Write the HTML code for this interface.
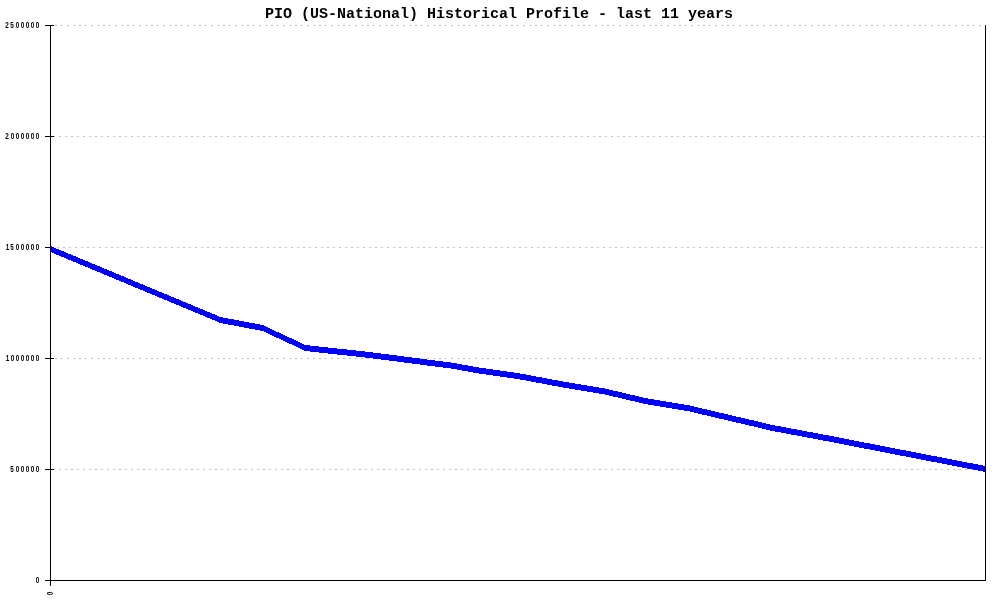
<!DOCTYPE html>
<html lang="en">
<head>
<meta charset="utf-8">
<title>PIO (US-National) Historical Profile - last 11 years</title>
<style>
html,body{margin:0;padding:0;background:#fff;}
body{width:1000px;height:600px;overflow:hidden;}
svg{display:block;}
.title{font-family:"Liberation Mono","DejaVu Sans Mono",monospace;font-size:15px;font-weight:bold;fill:#000;}
.ylab text,.xlab text{font-family:"Liberation Sans","DejaVu Sans",sans-serif;font-size:9px;font-weight:bold;fill:#000;}
</style>
</head>
<body>
<svg width="1000" height="600" viewBox="0 0 1000 600">
<rect width="1000" height="600" fill="#ffffff"/>
<text class="title" x="265" y="18" textLength="468" lengthAdjust="spacing">PIO (US-National) Historical Profile - last 11 years</text>
<g shape-rendering="crispEdges" fill="none" stroke-width="1">
<line x1="55" y1="25.5" x2="985" y2="25.5" stroke="#c0c0c0" stroke-dasharray="2 4"/>
<line x1="53" y1="136.5" x2="985" y2="136.5" stroke="#c0c0c0" stroke-dasharray="2 4"/>
<line x1="57" y1="247.5" x2="985" y2="247.5" stroke="#c0c0c0" stroke-dasharray="2 4"/>
<line x1="55" y1="358.5" x2="985" y2="358.5" stroke="#c0c0c0" stroke-dasharray="2 4"/>
<line x1="53" y1="469.5" x2="985" y2="469.5" stroke="#c0c0c0" stroke-dasharray="2 4"/>
</g>
<path shape-rendering="crispEdges" fill="none" stroke="#000" stroke-width="1" d="M45 25.5H54M45 136.5H54M45 247.5H54M45 358.5H54M45 469.5H54"/>
<path shape-rendering="crispEdges" fill="#0000ff" d="M50 246h2v6h-2zM52 247h2v6h-2zM54 248h2v6h-2zM56 249h3v6h-3zM59 250h2v6h-2zM61 251h3v6h-3zM64 252h2v6h-2zM66 253h2v6h-2zM68 254h3v6h-3zM71 255h2v6h-2zM73 256h3v6h-3zM76 257h2v6h-2zM78 258h2v6h-2zM80 259h3v6h-3zM83 260h2v6h-2zM85 261h3v6h-3zM88 262h2v6h-2zM90 263h2v6h-2zM92 264h3v6h-3zM95 265h2v6h-2zM97 266h3v6h-3zM100 267h2v6h-2zM102 268h2v6h-2zM104 269h3v6h-3zM107 270h2v6h-2zM109 271h3v6h-3zM112 272h2v6h-2zM114 273h2v6h-2zM116 274h3v6h-3zM119 275h2v6h-2zM121 276h3v6h-3zM124 277h2v6h-2zM126 278h2v6h-2zM128 279h3v6h-3zM131 280h2v6h-2zM133 281h2v6h-2zM135 282h3v6h-3zM138 283h2v6h-2zM140 284h3v6h-3zM143 285h2v6h-2zM145 286h2v6h-2zM147 287h3v6h-3zM150 288h2v6h-2zM152 289h3v6h-3zM155 290h2v6h-2zM157 291h2v6h-2zM159 292h3v6h-3zM162 293h2v6h-2zM164 294h3v6h-3zM167 295h2v6h-2zM169 296h2v6h-2zM171 297h3v6h-3zM174 298h2v6h-2zM176 299h3v6h-3zM179 300h2v6h-2zM181 301h2v6h-2zM183 302h3v6h-3zM186 303h2v6h-2zM188 304h3v6h-3zM191 305h2v6h-2zM193 306h2v6h-2zM195 307h3v6h-3zM198 308h2v6h-2zM200 309h3v6h-3zM203 310h2v6h-2zM205 311h2v6h-2zM207 312h3v6h-3zM210 313h2v6h-2zM212 314h3v6h-3zM215 315h2v6h-2zM217 316h2v6h-2zM219 317h4v6h-4zM223 318h5v6h-5zM228 319h6v6h-6zM234 320h5v6h-5zM239 321h5v6h-5zM244 322h5v6h-5zM249 323h6v6h-6zM255 324h5v6h-5zM260 325h4v6h-4zM264 326h2v6h-2zM266 327h2v6h-2zM268 328h2v6h-2zM270 329h2v6h-2zM272 330h2v6h-2zM274 331h2v6h-2zM276 332h3v6h-3zM279 333h2v6h-2zM281 334h2v6h-2zM283 335h2v6h-2zM285 336h2v6h-2zM287 337h2v6h-2zM289 338h3v6h-3zM292 339h2v6h-2zM294 340h2v6h-2zM296 341h2v6h-2zM298 342h2v6h-2zM300 343h2v6h-2zM302 344h2v6h-2zM304 345h6v6h-6zM310 346h9v6h-9zM319 347h9v6h-9zM328 348h9v6h-9zM337 349h10v6h-10zM347 350h9v6h-9zM356 351h9v6h-9zM365 352h8v6h-8zM373 353h8v6h-8zM381 354h8v6h-8zM389 355h8v6h-8zM397 356h7v6h-7zM404 357h8v6h-8zM412 358h8v6h-8zM420 359h7v6h-7zM427 360h8v6h-8zM435 361h8v6h-8zM443 362h8v6h-8zM451 363h6v6h-6zM457 364h5v6h-5zM462 365h6v6h-6zM468 366h5v6h-5zM473 367h6v6h-6zM479 368h7v6h-7zM486 369h7v6h-7zM493 370h7v6h-7zM500 371h7v6h-7zM507 372h7v6h-7zM514 373h6v6h-6zM520 374h6v6h-6zM526 375h5v6h-5zM531 376h5v6h-5zM536 377h6v6h-6zM542 378h5v6h-5zM547 379h5v6h-5zM552 380h6v6h-6zM558 381h5v6h-5zM563 382h6v6h-6zM569 383h6v6h-6zM575 384h6v6h-6zM581 385h6v6h-6zM587 386h6v6h-6zM593 387h6v6h-6zM599 388h6v6h-6zM605 389h4v6h-4zM609 390h4v6h-4zM613 391h5v6h-5zM618 392h4v6h-4zM622 393h4v6h-4zM626 394h4v6h-4zM630 395h5v6h-5zM635 396h4v6h-4zM639 397h4v6h-4zM643 398h5v6h-5zM648 399h6v6h-6zM654 400h6v6h-6zM660 401h6v6h-6zM666 402h6v6h-6zM672 403h6v6h-6zM678 404h6v6h-6zM684 405h6v6h-6zM690 406h4v6h-4zM694 407h4v6h-4zM698 408h4v6h-4zM702 409h5v6h-5zM707 410h4v6h-4zM711 411h4v6h-4zM715 412h4v6h-4zM719 413h5v6h-5zM724 414h4v6h-4zM728 415h4v6h-4zM732 416h4v6h-4zM736 417h5v6h-5zM741 418h4v6h-4zM745 419h4v6h-4zM749 420h5v6h-5zM754 421h4v6h-4zM758 422h4v6h-4zM762 423h4v6h-4zM766 424h4v6h-4zM770 425h5v6h-5zM775 426h6v6h-6zM781 427h5v6h-5zM786 428h5v6h-5zM791 429h6v6h-6zM797 430h5v6h-5zM802 431h5v6h-5zM807 432h6v6h-6zM813 433h5v6h-5zM818 434h5v6h-5zM823 435h6v6h-6zM829 436h5v6h-5zM834 437h5v6h-5zM839 438h5v6h-5zM844 439h5v6h-5zM849 440h5v6h-5zM854 441h5v6h-5zM859 442h5v6h-5zM864 443h6v6h-6zM870 444h5v6h-5zM875 445h5v6h-5zM880 446h5v6h-5zM885 447h5v6h-5zM890 448h5v6h-5zM895 449h5v6h-5zM900 450h6v6h-6zM906 451h5v6h-5zM911 452h5v6h-5zM916 453h5v6h-5zM921 454h5v6h-5zM926 455h5v6h-5zM931 456h6v6h-6zM937 457h5v6h-5zM942 458h5v6h-5zM947 459h5v6h-5zM952 460h5v6h-5zM957 461h5v6h-5zM962 462h5v6h-5zM967 463h6v6h-6zM973 464h5v6h-5zM978 465h5v6h-5zM983 466h3v6h-3z"/>
<g shape-rendering="crispEdges" fill="none" stroke="#000" stroke-width="1">
<path d="M50.5 25V586"/>
<path d="M45 580.5H986"/>
<path d="M985.5 25V581"/>
</g>
<g class="ylab">
<text transform="translate(5.0,28) scale(0.7,1)" x="0.357 7.500 15.357 22.500 29.643 36.786 43.929">2500000</text>
<text transform="translate(5.0,139) scale(0.7,1)" x="0.357 8.214 15.357 22.500 29.643 36.786 43.929">2000000</text>
<text transform="translate(5.0,250) scale(0.7,1)" x="1.071 7.500 15.357 22.500 29.643 36.786 43.929">1500000</text>
<text transform="translate(5.0,361) scale(0.7,1)" x="1.071 8.214 15.357 22.500 29.643 36.786 43.929">1000000</text>
<text transform="translate(10.0,472) scale(0.7,1)" x="0.357 8.214 15.357 22.500 29.643 36.786">500000</text>
<text transform="translate(35.0,583) scale(0.7,1)" x="1.071">0</text>
</g>
<g class="xlab"><text transform="translate(53,595.25) rotate(-90) scale(0.7,1)">0</text></g>
</svg>
</body>
</html>
